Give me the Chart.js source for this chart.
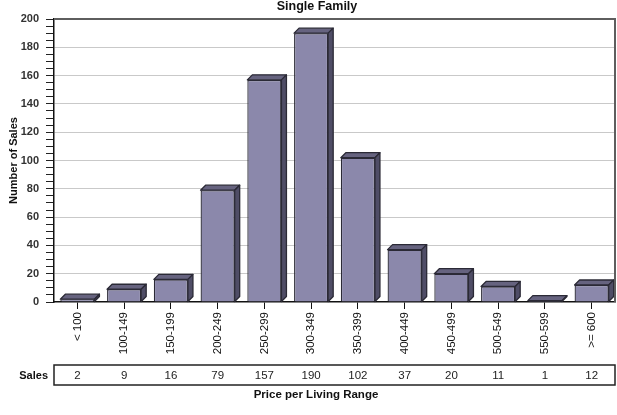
<!DOCTYPE html>
<html>
<head>
<meta charset="utf-8">
<script src="https://cdn.jsdelivr.net/npm/chart.js@4/dist/chart.umd.min.js"></script>
<style>
  html, body { margin: 0; padding: 0; background: #fff; }
  #wrap { width: 617px; height: 415px; position: relative; }
</style>
</head>
<body>
<div id="wrap"><canvas id="c" width="617" height="415"></canvas></div>
<script>
// Price bands and number of sales in each
const categories = ['< 100', '100-149', '150-199', '200-249', '250-299', '300-349',
                    '350-399', '400-449', '450-499', '500-549', '550-599', '>= 600'];
const sales = [2, 9, 16, 79, 157, 190, 102, 37, 20, 11, 1, 12];

const chartTitle = 'Single Family';
const yTitle = 'Number of Sales';
const xTitle = 'Price per Living Range';
const tableLabel = 'Sales';
const yMin = 0, yMax = 200, yMajorStep = 20, yMinorStep = 5;

const FONT = "'Liberation Sans', Arial, sans-serif";
const FRONT = '#8b88ab';
const TOP = '#66637f';
const SIDE = '#4f4d66';
const EDGE = '#2b2a36';
const DEPTH = 5;

// Draws the top and right faces of each bar to give it depth
const bar3d = {
  id: 'bar3d',
  afterDatasetsDraw(chart) {
    const ctx = chart.ctx;
    const meta = chart.getDatasetMeta(0);
    ctx.save();
    ctx.lineWidth = 1.3;
    ctx.strokeStyle = EDGE;
    ctx.lineJoin = 'round';
    meta.data.forEach(el => {
      const p = el.getProps(['x', 'y', 'base', 'width'], true);
      const l = p.x - p.width / 2, r = p.x + p.width / 2;
      const t = p.y, b = p.base;
      // top face
      ctx.beginPath();
      ctx.moveTo(l, t);
      ctx.lineTo(l + DEPTH, t - DEPTH);
      ctx.lineTo(r + DEPTH, t - DEPTH);
      ctx.lineTo(r, t);
      ctx.closePath();
      ctx.fillStyle = TOP;
      ctx.fill();
      ctx.stroke();
      // side face
      ctx.beginPath();
      ctx.moveTo(r, t);
      ctx.lineTo(r + DEPTH, t - DEPTH);
      ctx.lineTo(r + DEPTH, b - DEPTH);
      ctx.lineTo(r, b);
      ctx.closePath();
      ctx.fillStyle = SIDE;
      ctx.fill();
      ctx.stroke();
    });
    ctx.restore();
  }
};

// Frame, title, data table and x-axis title
const decorations = {
  id: 'decorations',
  afterDraw(chart) {
    const ctx = chart.ctx;
    const a = chart.chartArea;
    const xs = chart.scales.x;
    ctx.save();
    // top and right frame lines
    ctx.strokeStyle = '#5e5e5e';
    ctx.lineWidth = 2;
    ctx.beginPath();
    ctx.moveTo(a.left, a.top);
    ctx.lineTo(a.right, a.top);
    ctx.lineTo(a.right, a.bottom);
    ctx.stroke();

    // chart title
    ctx.fillStyle = '#111';
    ctx.font = 'bold 12.5px ' + FONT;
    ctx.textAlign = 'center';
    ctx.textBaseline = 'middle';
    ctx.fillText(chartTitle, 317, 7);

    // data table
    const top = 365, h = 20;
    ctx.strokeStyle = '#222';
    ctx.lineWidth = 1.5;
    ctx.strokeRect(a.left, top, a.right - a.left, h);
    ctx.font = 'bold 11px ' + FONT;
    ctx.textAlign = 'right';
    ctx.fillText(tableLabel, 48, top + h / 2 + 1);
    ctx.font = '11.5px ' + FONT;
    ctx.textAlign = 'center';
    ctx.fillStyle = '#222';
    sales.forEach((v, i) => {
      ctx.fillText(String(v), xs.getPixelForValue(i), top + h / 2 + 1);
    });

    // x-axis title
    ctx.fillStyle = '#111';
    ctx.font = 'bold 11.5px ' + FONT;
    ctx.fillText(xTitle, 316, 395);
    ctx.restore();
  }
};

new Chart(document.getElementById('c'), {
  type: 'bar',
  data: {
    labels: categories,
    datasets: [{
      data: sales,
      backgroundColor: FRONT,
      borderColor: EDGE,
      borderWidth: 1.3,
      barPercentage: 0.73,
      categoryPercentage: 1
    }]
  },
  options: {
    responsive: false,
    animation: false,
    devicePixelRatio: 1,
    layout: { padding: { top: 19, right: 2, left: 0, bottom: 0 } },
    plugins: { legend: { display: false }, title: { display: false }, tooltip: { enabled: false } },
    scales: {
      x: {
        afterFit(s) { s.height = 113; },
        grid: { drawOnChartArea: false, offset: false, tickLength: 7, tickColor: '#111', lineWidth: 1 },
        border: { color: '#111', width: 1.5 },
        ticks: {
          font: { family: FONT, size: 11.5 },
          color: '#111',
          maxRotation: 90,
          minRotation: 90,
          padding: 3,
          autoSkip: false
        }
      },
      y: {
        min: yMin,
        max: yMax,
        afterFit(s) { s.width = 54; },
        grid: {
          color: ctx => (ctx.tick && ctx.tick.value % yMajorStep === 0 && ctx.tick.value !== yMin) ? '#c9c9c9' : 'rgba(0,0,0,0)',
          tickColor: '#222',
          tickLength: 8,
          lineWidth: 1
        },
        border: { color: '#111', width: 1.5 },
        ticks: {
          stepSize: yMinorStep,
          autoSkip: false,
          font: { family: FONT, size: 11, weight: 'bold' },
          color: '#333',
          padding: 7,
          callback: v => (v % yMajorStep === 0 ? String(v) : '')
        },
        title: {
          display: true,
          text: yTitle,
          font: { family: FONT, size: 11, weight: 'bold' },
          color: '#111',
          padding: { top: 7, bottom: 0 }
        }
      }
    }
  },
  plugins: [bar3d, decorations]
});
</script>
</body>
</html>
